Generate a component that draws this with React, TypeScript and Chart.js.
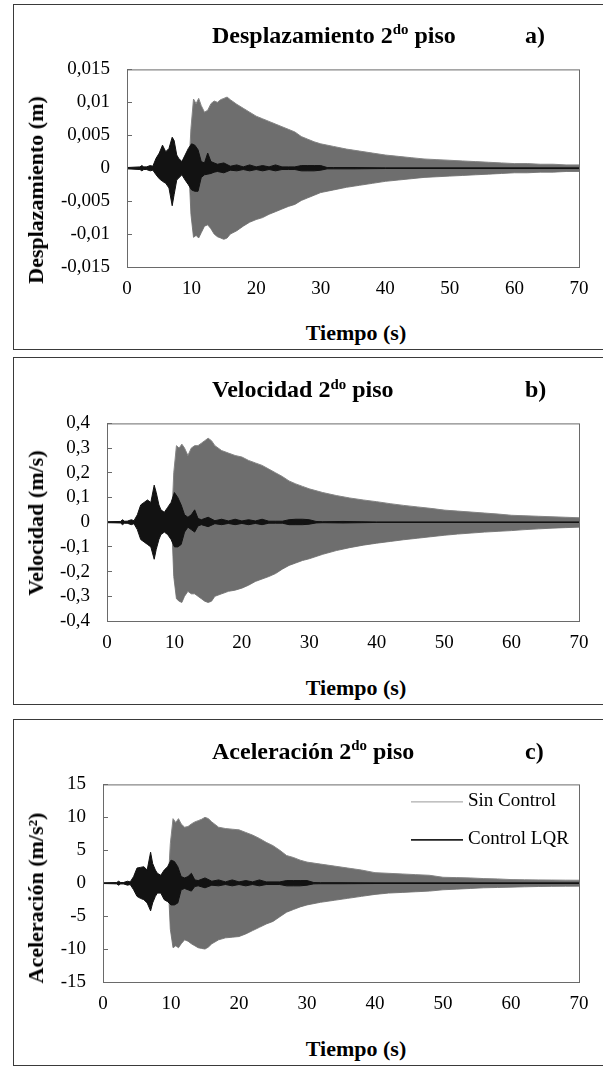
import React, { useEffect, useRef } from 'react';
import { Chart, registerables } from 'chart.js';

Chart.register(...registerables);

const FONT = "'Liberation Serif', 'Times New Roman', serif";

// ---- Data (envelopes of the oscillating responses) ----
const seriesLabels = ['Sin Control', 'Control LQR'];

const xTicks = [0, 10, 20, 30, 40, 50, 60, 70];

// Time instants (s) for the "Sin Control" envelope
const tSinControl = [0, 9.6, 9.9, 10.3, 10.7, 11.1, 11.5, 12, 12.5, 13, 13.5, 14, 14.5, 15, 15.5, 16, 17, 18, 19, 20, 21, 22, 23, 24, 25, 26, 27, 28, 29, 30, 32, 34, 36, 38, 40, 42, 44, 46, 48, 50, 52, 54, 56, 58, 60, 62, 64, 66, 68, 70];
// Time instants (s) for the "Control LQR" envelope
const tControlLQR = [0, 2, 2.3, 2.6, 3, 3.6, 4, 4.5, 5, 5.5, 6, 6.5, 7, 7.3, 7.7, 8, 8.5, 9, 9.5, 10, 10.5, 11, 11.5, 12, 12.5, 13, 13.5, 14, 15, 16, 17, 18, 19, 20, 21, 22, 23, 24, 25, 26, 27, 28, 29, 30, 31, 32, 35, 40, 70];

// a) Displacement (m)
const dispSinUpper = [0, 0.0005, 0.006, 0.0105, 0.0098, 0.0106, 0.0095, 0.0085, 0.0088, 0.0098, 0.0102, 0.0100, 0.0104, 0.0106, 0.0108, 0.0104, 0.0097, 0.0091, 0.0085, 0.0079, 0.0075, 0.0071, 0.0067, 0.0063, 0.0059, 0.0055, 0.0048, 0.0044, 0.0040, 0.0037, 0.0033, 0.0029, 0.0026, 0.0023, 0.0020, 0.0018, 0.0016, 0.0014, 0.0013, 0.0012, 0.0011, 0.0010, 0.0009, 0.0008, 0.0007, 0.0007, 0.0006, 0.0006, 0.0005, 0.0005];
const dispSinLower = [0, -0.0005, -0.007, -0.0105, -0.0102, -0.0106, -0.0098, -0.0088, -0.0086, -0.0092, -0.0100, -0.0104, -0.0106, -0.0108, -0.0106, -0.0100, -0.0095, -0.0088, -0.0082, -0.0078, -0.0075, -0.0070, -0.0066, -0.0062, -0.0058, -0.0055, -0.0049, -0.0045, -0.0041, -0.0037, -0.0033, -0.0029, -0.0026, -0.0023, -0.0020, -0.0018, -0.0016, -0.0014, -0.0013, -0.0012, -0.0011, -0.0010, -0.0009, -0.0008, -0.0007, -0.0007, -0.0006, -0.0006, -0.0005, -0.0005];
const dispLqrUpper = [0.0001, 0.0002, 0.0004, 0.0002, 0.0002, 0.0004, 0.0003, 0.0015, 0.0023, 0.0035, 0.0025, 0.003, 0.0047, 0.0042, 0.002, 0.0015, 0.001, 0.002, 0.003, 0.0037, 0.0035, 0.0028, 0.001, 0.0008, 0.0023, 0.001, 0.0008, 0.0006, 0.0008, 0.0003, 0.0005, 0.0002, 0.0005, 0.0002, 0.0004, 0.0002, 0.0005, 0.0002, 0.0002, 0.0002, 0.0004, 0.0004, 0.0004, 0.0004, 0.0001, 0.0001, 0.0001, 0.00005, 0.00005];
const dispLqrLower = [-0.0001, -0.0002, -0.0004, -0.0002, -0.0002, -0.0004, -0.0003, -0.001, -0.0016, -0.002, -0.0023, -0.003, -0.0057, -0.004, -0.0018, -0.0015, -0.001, -0.0018, -0.0025, -0.0033, -0.0035, -0.0035, -0.0014, -0.001, -0.0009, -0.0008, -0.0006, -0.0005, -0.0007, -0.0003, -0.0004, -0.0002, -0.0004, -0.0002, -0.0004, -0.0002, -0.0004, -0.0002, -0.0002, -0.0002, -0.0004, -0.0004, -0.0004, -0.0003, -0.0001, -0.0001, -0.0001, -0.00005, -0.00005];

// b) Velocity (m/s)
const velSinUpper = [0, 0.01, 0.2, 0.31, 0.30, 0.316, 0.30, 0.27, 0.30, 0.31, 0.31, 0.32, 0.33, 0.34, 0.33, 0.31, 0.29, 0.28, 0.27, 0.264, 0.25, 0.24, 0.23, 0.215, 0.20, 0.185, 0.167, 0.155, 0.145, 0.135, 0.12, 0.108, 0.098, 0.09, 0.083, 0.075, 0.068, 0.062, 0.056, 0.049, 0.045, 0.041, 0.037, 0.033, 0.028, 0.026, 0.024, 0.022, 0.02, 0.018];
const velSinLower = [0, -0.01, -0.22, -0.31, -0.32, -0.325, -0.30, -0.28, -0.29, -0.29, -0.30, -0.31, -0.32, -0.325, -0.32, -0.30, -0.29, -0.28, -0.275, -0.267, -0.255, -0.24, -0.23, -0.22, -0.208, -0.19, -0.175, -0.165, -0.155, -0.148, -0.13, -0.115, -0.103, -0.093, -0.085, -0.078, -0.071, -0.065, -0.059, -0.053, -0.048, -0.044, -0.04, -0.037, -0.034, -0.03, -0.027, -0.024, -0.022, -0.02];
const velLqrUpper = [0.002, 0.003, 0.01, 0.004, 0.004, 0.01, 0.006, 0.03, 0.07, 0.08, 0.09, 0.08, 0.15, 0.12, 0.07, 0.05, 0.04, 0.06, 0.08, 0.12, 0.1, 0.07, 0.03, 0.02, 0.03, 0.05, 0.015, 0.01, 0.02, 0.006, 0.012, 0.005, 0.012, 0.005, 0.01, 0.005, 0.012, 0.004, 0.004, 0.004, 0.01, 0.012, 0.012, 0.01, 0.003, 0.002, 0.003, 0.001, 0.001];
const velLqrLower = [-0.002, -0.003, -0.01, -0.004, -0.004, -0.01, -0.006, -0.03, -0.07, -0.08, -0.09, -0.1, -0.15, -0.11, -0.07, -0.05, -0.04, -0.05, -0.07, -0.1, -0.1, -0.09, -0.04, -0.02, -0.03, -0.04, -0.015, -0.01, -0.018, -0.006, -0.01, -0.005, -0.01, -0.005, -0.01, -0.005, -0.01, -0.004, -0.004, -0.004, -0.01, -0.01, -0.01, -0.008, -0.003, -0.002, -0.003, -0.001, -0.001];

// c) Acceleration (m/s²)
const accSinUpper = [0, 0.3, 6, 9.8, 9.2, 9.8, 9.0, 8.5, 8.6, 9.0, 9.3, 9.5, 9.7, 10, 9.8, 9.3, 8.5, 8.3, 8.2, 8.1, 7.7, 7.3, 6.8, 6.2, 5.7, 5.0, 4.2, 3.9, 3.5, 3.2, 2.9, 2.6, 2.3, 2.0, 1.6, 1.5, 1.4, 1.3, 1.2, 0.9, 0.85, 0.8, 0.7, 0.65, 0.55, 0.52, 0.5, 0.48, 0.46, 0.45];
const accSinLower = [0, -0.3, -7, -9.8, -9.5, -9.8, -9.2, -8.6, -8.8, -9.2, -9.5, -9.8, -9.9, -10, -9.7, -9.2, -8.6, -8.3, -8.2, -8.1, -7.7, -7.2, -6.7, -6.2, -5.8, -5.1, -4.4, -4.0, -3.6, -3.3, -2.9, -2.6, -2.3, -2.0, -1.7, -1.5, -1.4, -1.3, -1.2, -1.0, -0.9, -0.8, -0.7, -0.65, -0.6, -0.55, -0.5, -0.48, -0.46, -0.45];
const accLqrUpper = [0.05, 0.1, 0.3, 0.1, 0.1, 0.3, 0.2, 1.0, 2.3, 2.4, 2.5, 2.0, 4.7, 3.0, 2.0, 1.5, 1.2, 2.0, 2.5, 3.5, 3.3, 2.5, 1.0, 0.8, 1.0, 1.5, 0.5, 0.4, 0.8, 0.3, 0.5, 0.2, 0.5, 0.2, 0.4, 0.2, 0.5, 0.2, 0.2, 0.2, 0.4, 0.4, 0.4, 0.4, 0.1, 0.08, 0.08, 0.05, 0.05];
const accLqrLower = [-0.05, -0.1, -0.3, -0.1, -0.1, -0.3, -0.2, -1.0, -2.0, -2.3, -2.5, -3.0, -4.2, -3.0, -2.0, -1.5, -1.5, -2.5, -2.8, -3.3, -3.3, -3.0, -1.0, -0.8, -1.0, -1.2, -0.5, -0.4, -0.7, -0.3, -0.4, -0.2, -0.4, -0.2, -0.4, -0.2, -0.4, -0.2, -0.2, -0.2, -0.4, -0.4, -0.4, -0.3, -0.1, -0.08, -0.08, -0.05, -0.05];

// Y ticks
const dispTicks = [-0.015, -0.01, -0.005, 0, 0.005, 0.01, 0.015];
const dispTickLabels = ['-0,015', '-0,01', '-0,005', '0', '0,005', '0,01', '0,015'];
const velTicks = [-0.4, -0.3, -0.2, -0.1, 0, 0.1, 0.2, 0.3, 0.4];
const velTickLabels = ['-0,4', '-0,3', '-0,2', '-0,1', '0', '0,1', '0,2', '0,3', '0,4'];
const accTicks = [-15, -10, -5, 0, 5, 10, 15];
const accTickLabels = ['-15', '-10', '-5', '0', '5', '10', '15'];

// ---- Layout of the three panels (page coordinates) ----
const PAD_TOP = 25;
const X_AXIS_H = 40;
const PLOT_RIGHT = 579;
const PLOT_H = 206;

const panels = [
  {
    key: 'a', title: 'Desplazamiento', letter: 'a)', yTitle: 'Desplazamiento (m)',
    boxTop: 4, boxHeight: 346, plotLeft: 127, plotTop: 61,
    titleBase: 42.7, xTitleBase: 340.7, yTitleY: 189.5,
    sinU: dispSinUpper, sinL: dispSinLower, lqrU: dispLqrUpper, lqrL: dispLqrLower,
    ticks: dispTicks, tickLabels: dispTickLabels, legend: false,
  },
  {
    key: 'b', title: 'Velocidad', letter: 'b)', yTitle: 'Velocidad (m/s)',
    boxTop: 357, boxHeight: 348, plotLeft: 107, plotTop: 415,
    titleBase: 397.3, xTitleBase: 695, yTitleY: 523,
    sinU: velSinUpper, sinL: velSinLower, lqrU: velLqrUpper, lqrL: velLqrLower,
    ticks: velTicks, tickLabels: velTickLabels, legend: false,
  },
  {
    key: 'c', title: 'Aceleración', letter: 'c)', yTitle: 'Aceleración (m/s²)',
    boxTop: 719, boxHeight: 347, plotLeft: 103, plotTop: 776,
    titleBase: 758.7, xTitleBase: 1056, yTitleY: 898,
    sinU: accSinUpper, sinL: accSinLower, lqrU: accLqrUpper, lqrL: accLqrLower,
    ticks: accTicks, tickLabels: accTickLabels, legend: true,
  },
];

const pts = (t: number[], v: number[]) => t.map((x, i) => ({ x, y: v[i] }));

const framePlugin = {
  id: 'frame',
  afterDraw(chart: any, _args: any, opts: any) {
    const { ctx, chartArea: a } = chart;
    ctx.save();
    ctx.strokeStyle = '#6a6a6a';
    ctx.lineWidth = 1;
    ctx.strokeRect(a.left + 0.5, a.top + 0.5, a.right - a.left, a.bottom - a.top);
    if (opts && opts.legend) {
      const items = [
        { text: seriesLabels[0], color: '#9a9a9a', w: 1, dy: 17 },
        { text: seriesLabels[1], color: '#222222', w: 1.6, dy: 55 },
      ];
      ctx.font = `19px ${FONT}`;
      ctx.textBaseline = 'middle';
      ctx.textAlign = 'left';
      items.forEach((it) => {
        const y = a.top + it.dy;
        ctx.beginPath();
        ctx.strokeStyle = it.color;
        ctx.lineWidth = it.w;
        ctx.moveTo(a.right - 168, y + 0.5);
        ctx.lineTo(a.right - 116, y + 0.5);
        ctx.stroke();
        ctx.fillStyle = '#000';
        ctx.fillText(it.text, a.right - 111, y);
      });
    }
    ctx.restore();
  },
};

function Panel({ p }: { p: any }) {
  const ref = useRef<HTMLCanvasElement | null>(null);
  const canvasTop = p.plotTop - PAD_TOP;
  const canvasH = PAD_TOP + PLOT_H + X_AXIS_H;

  useEffect(() => {
    if (!ref.current) return;
    const chart = new Chart(ref.current, {
      type: 'line',
      data: {
        datasets: [
          { label: seriesLabels[1], data: pts(tControlLQR, p.lqrU), borderColor: '#121212', backgroundColor: '#121212', borderWidth: 1, pointRadius: 0, tension: 0, fill: '+1' },
          { label: seriesLabels[1] + ' -', data: pts(tControlLQR, p.lqrL), borderColor: '#121212', backgroundColor: '#121212', borderWidth: 1, pointRadius: 0, tension: 0, fill: false },
          { label: seriesLabels[0], data: pts(tSinControl, p.sinU), borderColor: '#858585', backgroundColor: '#6e6e6e', borderWidth: 1, pointRadius: 0, tension: 0, fill: '+1' },
          { label: seriesLabels[0] + ' -', data: pts(tSinControl, p.sinL), borderColor: '#858585', backgroundColor: '#6e6e6e', borderWidth: 1, pointRadius: 0, tension: 0, fill: false },
        ],
      },
      options: {
        responsive: false,
        maintainAspectRatio: false,
        animation: false,
        events: [],
        layout: { padding: { left: 0, right: 603 - PLOT_RIGHT, top: PAD_TOP, bottom: 0 } },
        plugins: {
          legend: { display: false },
          tooltip: { enabled: false },
          title: { display: false },
          frame: { legend: p.legend },
        } as any,
        scales: {
          x: {
            type: 'linear',
            min: 0,
            max: 70,
            afterBuildTicks: (s: any) => { s.ticks = xTicks.map((v) => ({ value: v })); },
            afterFit: (s: any) => { s.height = X_AXIS_H; },
            ticks: {
              autoSkip: false, maxRotation: 0, padding: 11, color: '#000',
              font: { family: FONT, size: 19 },
              callback: (v: any) => String(v),
            },
            grid: { display: false, drawTicks: false },
            border: { display: false },
          },
          y: {
            type: 'linear',
            min: p.ticks[0],
            max: p.ticks[p.ticks.length - 1],
            afterBuildTicks: (s: any) => { s.ticks = p.ticks.map((v: number) => ({ value: v })); },
            afterFit: (s: any) => { s.width = p.plotLeft; },
            ticks: {
              autoSkip: false, padding: 22, color: '#000',
              font: { family: FONT, size: 19 },
              callback: (_v: any, i: number) => p.tickLabels[i],
            },
            grid: { display: true, drawOnChartArea: false, drawTicks: true, tickLength: -5, color: '#6a6a6a', lineWidth: 1 },
            border: { display: false },
          },
        },
      } as any,
      plugins: [framePlugin],
    });
    return () => chart.destroy();
  }, []);

  const txt = { position: 'absolute' as const, fontFamily: FONT, fontWeight: 'bold' as const, color: '#000', whiteSpace: 'nowrap' as const, margin: 0 };

  return (
    <>
      <div style={{ position: 'absolute', left: 13, top: p.boxTop, width: 620, height: p.boxHeight, border: '1px solid #3a3a3a', boxSizing: 'border-box' }} />
      <canvas ref={ref} width={603} height={canvasH} style={{ position: 'absolute', left: 0, top: canvasTop, width: 603, height: canvasH, display: 'block' }} />
      <div style={{ ...txt, left: 212, top: p.titleBase - 20.1, fontSize: 24, lineHeight: '24px' }}>
        {p.title} 2<sup style={{ fontSize: '0.62em', position: 'relative', top: '-0.55em', verticalAlign: 'baseline', lineHeight: 0 }}>do</sup> piso
      </div>
      <div style={{ ...txt, left: 525, top: p.titleBase - 20.1, fontSize: 24, lineHeight: '24px' }}>{p.letter}</div>
      <div style={{ ...txt, left: 256, width: 200, textAlign: 'center', top: p.xTitleBase - 18.4, fontSize: 22, lineHeight: '22px' }}>Tiempo (s)</div>
      <div style={{ ...txt, left: 35.6, top: p.yTitleY, fontSize: 22, lineHeight: '22px', transform: 'translate(-50%, -50%) rotate(-90deg)' }}>{p.yTitle}</div>
    </>
  );
}

export default function App() {
  return (
    <div style={{ position: 'absolute', left: 0, top: 0, width: 603, height: 1066, overflow: 'hidden', background: '#fff' }}>
      {panels.map((p) => <Panel key={p.key} p={p} />)}
    </div>
  );
}
